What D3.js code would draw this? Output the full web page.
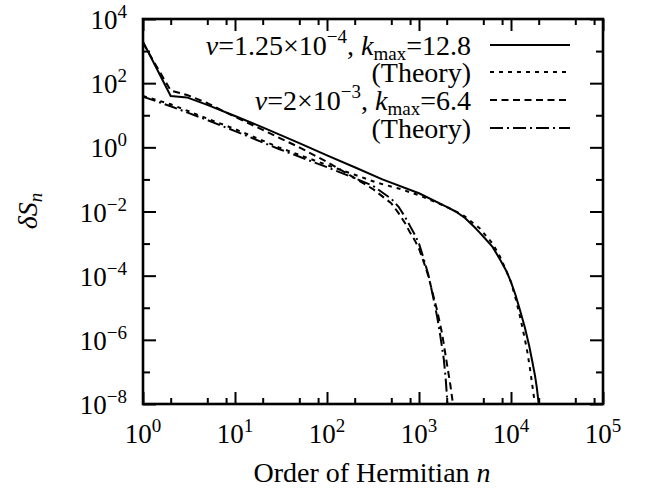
<!DOCTYPE html>
<html><head><meta charset="utf-8">
<script src="https://cdn.jsdelivr.net/npm/d3@7"></script>
<style>
body{margin:0;background:#fff;}
svg{display:block;}
text{font-family:'Liberation Serif','Times New Roman',serif;}
</style></head>
<body>
<svg id="c" width="648" height="493"></svg>
<script>
// ---- data ----
const simA_n = [1, 2, 3, 5, 10, 20, 50, 100, 200, 400, 1000, 2000, 2500, 3160, 4000, 4570, 5000, 6300, 7600, 8900, 10000, 11200, 12600, 14100, 15800, 17000, 18200, 19100, 20000];
const simA_S = [1950, 40, 36, 21, 9.5, 4.2, 1.35, 0.56, 0.24, 0.1, 0.037, 0.014, 0.01, 0.0063, 0.0033, 0.0022, 0.00166, 7.9e-4, 3.2e-4, 1.4e-4, 6.3e-5, 2.5e-5, 7.9e-6, 2.5e-6, 6.3e-7, 2.2e-7, 7.9e-8, 3.2e-8, 1e-8];

const thA_n = [1, 2, 5, 10, 30, 100, 200, 350, 630, 1000, 1800, 3000, 4570, 5000, 5600, 6300, 7100, 7600, 8500, 10000, 11200, 12600, 14100, 15100, 16200, 17400, 18200];
const thA_S = [40, 22, 7.9, 3.7, 1.0, 0.28, 0.14, 0.079, 0.05, 0.032, 0.016, 0.0078, 0.003, 0.0022, 0.0015, 0.001, 5.6e-4, 3.9e-4, 1.9e-4, 6.3e-5, 2e-5, 5e-6, 1.1e-6, 4e-7, 1.1e-7, 2.5e-8, 1e-8];

const simB_n = [1, 2, 3, 5, 10, 20, 50, 100, 200, 316, 500, 600, 700, 800, 900, 1000, 1120, 1260, 1410, 1580, 1780, 1900, 2040, 2190, 2340];
const simB_S = [1780, 59, 43, 24, 8.9, 3.5, 1.0, 0.35, 0.11, 0.05, 0.018, 0.0089, 0.0045, 0.0022, 0.00126, 7e-4, 2.8e-4, 1e-4, 2.8e-5, 7.9e-6, 1.6e-6, 5e-7, 1.4e-7, 4e-8, 1e-8];

const thB_n = [1, 2, 5, 10, 30, 100, 200, 316, 500, 600, 700, 800, 900, 1000, 1120, 1260, 1410, 1580, 1700, 1860, 1950, 2040];
const thB_S = [38, 19, 7.1, 3.2, 0.89, 0.24, 0.11, 0.063, 0.025, 0.014, 0.007, 0.0035, 0.0019, 1e-3, 3.5e-4, 1.1e-4, 2.5e-5, 5e-6, 1.4e-6, 2.5e-7, 6.3e-8, 1e-8];

const xMajor = [1, 10, 100, 1000, 10000, 100000];
const xMajorExp = ["0", "1", "2", "3", "4", "5"];
const xMinorMant = [2, 5, 8];
const yMajor = [1e4, 1e2, 1, 1e-2, 1e-4, 1e-6, 1e-8];
const yMajorExp = ["4", "2", "0", "\u22122", "\u22124", "\u22126", "\u22128"];
const yMinor = [1e3, 1e1, 1e-1, 1e-3, 1e-5, 1e-7];

const seriesNames = ["simA", "thA", "simB", "thB"];
const dashes = [null, "4,5", "7,4.5", "13,4,2,4"];

// ---- layout ----
const FONT = "'Liberation Serif','Times New Roman',serif";
const L = 143, R = 603, T = 19, B = 404;
const svg = d3.select("#c");
const x = d3.scaleLog().domain([1, 1e5]).range([L, R]);
const y = d3.scaleLog().domain([1e-8, 1e4]).range([B, T]);

svg.append("defs").append("clipPath").attr("id", "clip")
  .append("rect").attr("x", L).attr("y", T).attr("width", R - L).attr("height", B - T);

// ---- lines ----
const sets = [[simA_n, simA_S], [thA_n, thA_S], [simB_n, simB_S], [thB_n, thB_S]];
const line = d3.line().x(d => x(d[0])).y(d => y(d[1]));
sets.forEach((s, i) => {
  const pts = s[0].map((n, j) => [n, s[1][j]]);
  svg.append("path").attr("clip-path", "url(#clip)")
    .attr("d", line(pts)).attr("fill", "none").attr("stroke", "#000")
    .attr("stroke-width", 2).attr("stroke-linejoin", "round")
    .attr("stroke-dasharray", dashes[i]);
});

// ---- axes (ticks inward on all sides) ----
const xMinor = [];
for (let k = 0; k < 5; k++) xMinorMant.forEach(m => xMinor.push(m * xMajor[k]));
function axisG(gen, tf) {
  const g = svg.append("g").attr("transform", tf).call(gen);
  g.select(".domain").remove();
  g.selectAll("line").attr("stroke", "#000").attr("stroke-width", 2);
  g.selectAll("text").remove();
  return g;
}
axisG(d3.axisBottom(x).tickValues(xMajor).tickSize(-12).tickFormat(""), `translate(0,${B})`);
axisG(d3.axisBottom(x).tickValues(xMinor).tickSize(-6).tickFormat(""), `translate(0,${B})`);
axisG(d3.axisTop(x).tickValues(xMajor).tickSize(-12).tickFormat(""), `translate(0,${T})`);
axisG(d3.axisTop(x).tickValues(xMinor).tickSize(-6).tickFormat(""), `translate(0,${T})`);
axisG(d3.axisLeft(y).tickValues(yMajor).tickSize(-13).tickFormat(""), `translate(${L},0)`);
axisG(d3.axisLeft(y).tickValues(yMinor).tickSize(-7).tickFormat(""), `translate(${L},0)`);
axisG(d3.axisRight(y).tickValues(yMajor).tickSize(-13).tickFormat(""), `translate(${R},0)`);
axisG(d3.axisRight(y).tickValues(yMinor).tickSize(-7).tickFormat(""), `translate(${R},0)`);

svg.append("rect").attr("x", L).attr("y", T).attr("width", R - L).attr("height", B - T)
  .attr("fill", "none").attr("stroke", "#000").attr("stroke-width", 2.6);

// ---- tick labels ----
const TFS = 27, FS = 28, SFS = 19;
xMajor.forEach((v, i) => {
  const t = svg.append("text").attr("x", x(v)).attr("y", 443).attr("text-anchor", "middle").style("font-size", TFS + "px");
  t.append("tspan").text("10");
  t.append("tspan").attr("dy", -11).style("font-size", SFS + "px").text(xMajorExp[i]);
});
yMajor.forEach((v, i) => {
  const t = svg.append("text").attr("x", 127).attr("y", y(v) + 10).attr("text-anchor", "end").style("font-size", TFS + "px");
  t.append("tspan").text("10");
  t.append("tspan").attr("dy", -11).style("font-size", SFS + "px").text(yMajorExp[i]);
});

// ---- axis titles ----
const xt = svg.append("text").attr("x", 372).attr("y", 482).attr("text-anchor", "middle").style("font-size", FS + "px");
xt.append("tspan").text("Order of Hermitian ");
xt.append("tspan").style("font-style", "italic").text("n");

const yt = svg.append("text").attr("transform", "translate(37,211) rotate(-90)").attr("text-anchor", "middle").style("font-size", FS + "px");
yt.append("tspan").style("font-style", "italic").text("\u03b4S");
yt.append("tspan").attr("dy", 5).style("font-size", SFS + "px").style("font-style", "italic").text("n");

// ---- legend ----
const legY = [45, 72, 100, 128];
const tx = 471, lx0 = 490, lx1 = 570;
function legText(i, parts) {
  const t = svg.append("text").attr("x", tx).attr("y", legY[i] + 10).attr("text-anchor", "end").style("font-size", FS + "px");
  parts.forEach(p => {
    const s = t.append("tspan").text(p.t);
    if (p.i) s.style("font-style", "italic");
    if (p.dy) s.attr("dy", p.dy);
    if (p.s) s.style("font-size", SFS + "px");
  });
}
legText(0, [{t: "\u03bd", i: 1}, {t: "=1.25\u00d710"}, {t: "\u22124", dy: -12, s: 1}, {t: ", ", dy: 12},
  {t: "k", i: 1}, {t: "max", dy: 5, s: 1}, {t: "=12.8", dy: -5}]);
legText(1, [{t: "(Theory)"}]);
legText(2, [{t: "\u03bd", i: 1}, {t: "=2\u00d710"}, {t: "\u22123", dy: -12, s: 1}, {t: ", ", dy: 12},
  {t: "k", i: 1}, {t: "max", dy: 5, s: 1}, {t: "=6.4", dy: -5}]);
legText(3, [{t: "(Theory)"}]);
seriesNames.forEach((nm, i) => {
  svg.append("line").attr("x1", lx0).attr("x2", lx1).attr("y1", legY[i]).attr("y2", legY[i])
    .attr("stroke", "#000").attr("stroke-width", 2).attr("stroke-dasharray", dashes[i]);
});

svg.selectAll("text").style("font-family", FONT).attr("fill", "#000");
</script>
</body></html>
